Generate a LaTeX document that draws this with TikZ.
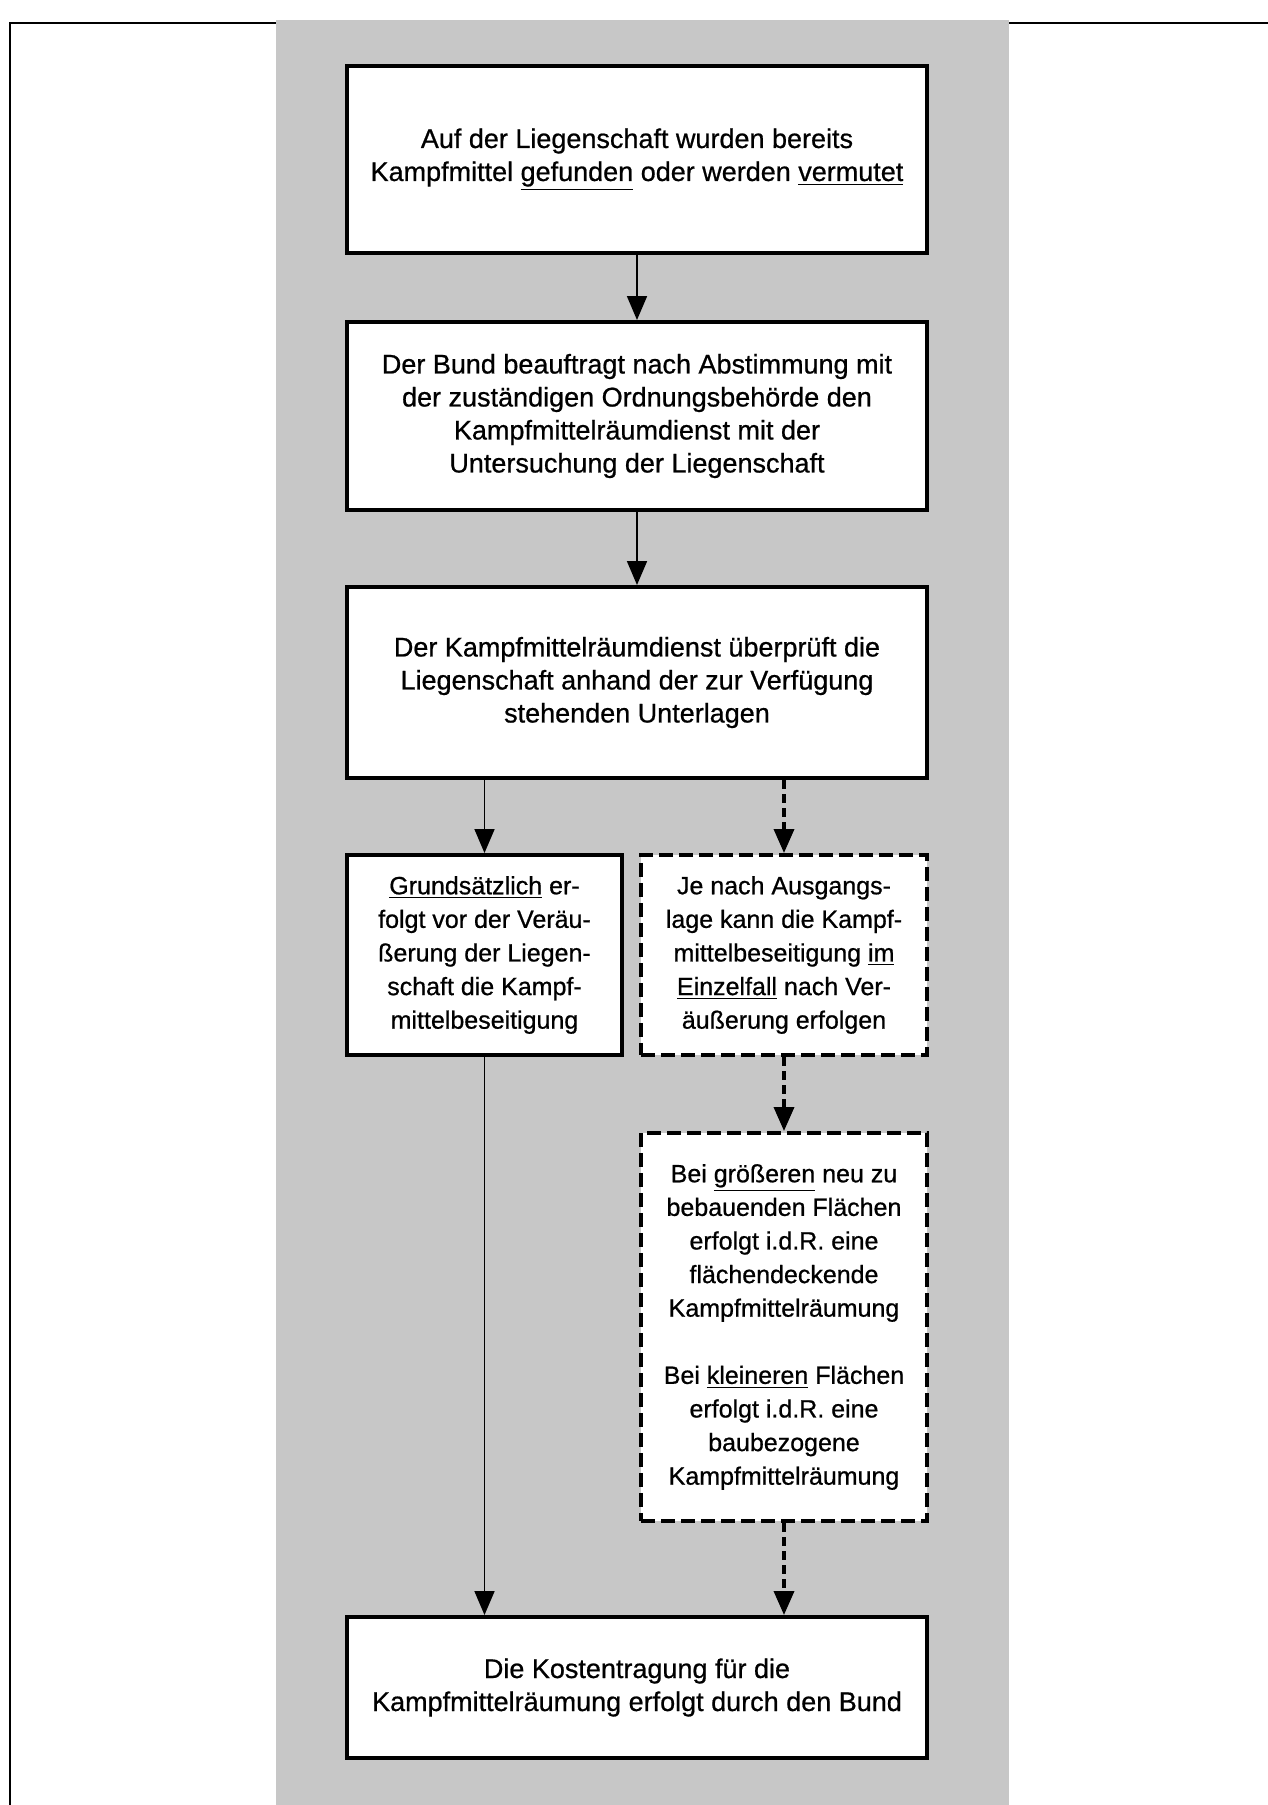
\documentclass[tikz,border=0pt]{standalone}
\usepackage{fontspec}
\setmainfont{Liberation Sans}[FakeBold=0.7]
\usetikzlibrary{arrows.meta}
\tikzset{
  box/.style={draw=black, line width=2pt, fill=white, align=center, inner sep=0pt,
    font=\fontsize{13.5}{16.5}\selectfont},
  smallbox/.style={box, font=\fontsize{12.5}{16.8}\selectfont},
  dashbox/.style={smallbox, dash pattern=on 7pt off 3pt},
  conn/.style={line width=0.9pt, -{Triangle[width=10pt,length=12pt]}},
  dconn/.style={line width=1.8pt, dash pattern=on 4.5pt off 2.5pt, -{Triangle[width=10pt,length=12pt]}},
}
\begin{document}
\begin{tikzpicture}[x=0.5pt,y=-0.5pt]
\useasboundingbox (0,0) rectangle (1268,1805);
\fill[white] (0,0) rectangle (1268,1805);
% page frame (top and left rules)
\coordinate (ftl) at (10,23);
\coordinate (ftr) at (1268,23);
\coordinate (fbl) at (10,1805);
\draw[line width=0.8pt] (fbl) -- (ftl) -- (ftr);
% shaded band
\fill[black!22] (276,20) rectangle (1009,1805);

\node[box, minimum width=290pt, minimum height=93.5pt] (b1) at (637,159.5)
  {Auf der Liegenschaft wurden bereits\\Kampfmittel \underline{gefunden} oder werden \underline{vermutet}};
\node[box, minimum width=290pt, minimum height=94pt] (b2) at (637,416)
  {Der Bund beauftragt nach Abstimmung mit\\der zuständigen Ordnungsbehörde den\\Kampfmittelräumdienst mit der\\Untersuchung der Liegenschaft};
\node[box, minimum width=290pt, minimum height=95.5pt] (b3) at (637,682.5)
  {Der Kampfmittelräumdienst überprüft die\\Liegenschaft anhand der zur Verfügung\\stehenden Unterlagen};
\node[smallbox, minimum width=137.5pt, minimum height=100pt] (b4) at (484.5,955)
  {\underline{Grundsätzlich} er-\\folgt vor der Veräu-\\ßerung der Liegen-\\schaft die Kampf-\\mittelbeseitigung};
\node[dashbox, minimum width=143pt, minimum height=100pt] (b5) at (784,955)
  {Je nach Ausgangs-\\lage kann die Kampf-\\mittelbeseitigung \underline{im}\\\underline{Einzelfall} nach Ver-\\äußerung erfolgen};
\node[dashbox, minimum width=143pt, minimum height=194pt] (b6) at (784,1327)
  {Bei \underline{größeren} neu zu\\bebauenden Flächen\\erfolgt i.d.R. eine\\flächendeckende\\Kampfmittelräumung\\[16.8pt]Bei \underline{kleineren} Flächen\\erfolgt i.d.R. eine\\baubezogene\\Kampfmittelräumung};
\node[box, minimum width=290pt, minimum height=70.5pt] (b7) at (637,1687.5)
  {Die Kostentragung für die\\Kampfmittelräumung erfolgt durch den Bund};

\draw[conn] (b1) -- (b2);
\draw[conn] (b2) -- (b3);
\draw[conn] (b3.south -| b4) -- (b4);
\draw[dconn] (b3.south -| b5) -- (b5);
\draw[dconn] (b5) -- (b6);
\draw[conn] (b4) -- (b4 |- b7.north);
\draw[dconn] (b6) -- (b6 |- b7.north);
\end{tikzpicture}
\end{document}
